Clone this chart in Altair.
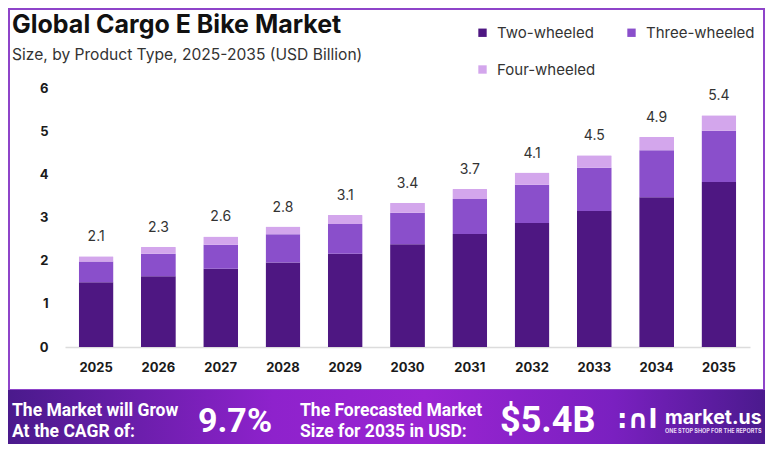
import altair as alt
import pandas as pd

years = ["2025", "2026", "2027", "2028", "2029", "2030", "2031", "2032", "2033", "2034", "2035"]
two_wheeled = [1.50, 1.64, 1.81, 1.96, 2.16, 2.38, 2.62, 2.87, 3.15, 3.47, 3.82]
three_wheeled = [0.48, 0.52, 0.56, 0.65, 0.69, 0.73, 0.81, 0.89, 1.00, 1.09, 1.19]
four_wheeled = [0.12, 0.16, 0.19, 0.18, 0.21, 0.23, 0.23, 0.28, 0.29, 0.31, 0.36]
total_labels = ["2.1", "2.3", "2.6", "2.8", "3.1", "3.4", "3.7", "4.1", "4.5", "4.9", "5.4"]
segments = ["Two-wheeled", "Three-wheeled", "Four-wheeled"]
seg_colors = ["#4e1782", "#8a4fcb", "#d3a6ec"]
y_ticks = [0, 1, 2, 3, 4, 5, 6]

FONT = "Inter"
BFONT = "Roboto"

rows = []
for i, y in enumerate(years):
    for k, (name, vals) in enumerate(zip(segments, [two_wheeled, three_wheeled, four_wheeled])):
        rows.append({"year": y, "segment": name, "value": vals[i], "k": k})
df = pd.DataFrame(rows)

tot = pd.DataFrame({
    "year": years,
    "total": [a + b + c for a, b, c in zip(two_wheeled, three_wheeled, four_wheeled)],
    "label": total_labels,
})

W, H = 685, 259
x_scale = alt.Scale(paddingInner=0.44, paddingOuter=0.22)
y_scale = alt.Scale(domain=[0, 6])

bars = alt.Chart(df).mark_bar(cornerRadiusTopLeft=1, cornerRadiusTopRight=1).encode(
    x=alt.X("year:N", sort=years, scale=x_scale,
            axis=alt.Axis(title=None, labelAngle=0, labelFont=FONT, labelFontWeight="bold",
                          labelFontSize=13, labelColor="#1a1a1a", ticks=False, tickSize=0,
                          labelPadding=14, domainColor="#dcdcdc", domainWidth=1.5)),
    y=alt.Y("value:Q", stack="zero", scale=y_scale,
            axis=alt.Axis(title=None, values=y_ticks, format="d", grid=False, domain=False,
                          ticks=False, tickSize=0, labelPadding=17, labelFont=FONT,
                          labelFontWeight="bold", labelFontSize=13, labelColor="#1a1a1a")),
    color=alt.Color("segment:N", scale=alt.Scale(domain=segments, range=seg_colors),
                    legend=alt.Legend(title=None, orient="none", legendX=410, legendY=-63,
                                      direction="horizontal", columns=2,
                                      symbolType="square", symbolSize=70,
                                      labelFont=FONT, labelFontSize=15, labelColor="#333333",
                                      labelOffset=7, columnPadding=28, rowPadding=21)),
    order=alt.Order("k:Q", sort="ascending"),
)

labels = alt.Chart(tot).mark_text(font=FONT, fontSize=14, color="#333333", dy=-19).encode(
    x=alt.X("year:N", sort=years, scale=x_scale),
    y=alt.Y("total:Q", scale=y_scale),
    text="label:N",
)

one = alt.Data(values=[{"a": 1}])

def txt(s, x, y, size, weight="normal", color="#111111", font=FONT, align="left"):
    return alt.Chart(one).mark_text(text=s, font=font, fontSize=size, fontWeight=weight,
                                    color=color, align=align, baseline="alphabetic").encode(
        x=alt.value(x), y=alt.value(y))

frame = alt.Chart(one).mark_rect(fill=None, stroke="#8e44c9", strokeWidth=2).encode(
    x=alt.value(-56), x2=alt.value(699), y=alt.value(-79), y2=alt.value(302))

banner = alt.Chart(one).mark_rect(
    color=alt.LinearGradient(
        gradient="linear", x1=0, x2=1, y1=0, y2=0,
        stops=[alt.GradientStop(color="#4a1a8c", offset=0),
               alt.GradientStop(color="#8e22cc", offset=0.35),
               alt.GradientStop(color="#9a24d2", offset=0.55),
               alt.GradientStop(color="#7a20c0", offset=0.8),
               alt.GradientStop(color="#4b1a8e", offset=1)])
).encode(x=alt.value(-57), x2=alt.value(700), y=alt.value(302), y2=alt.value(360))

layers = [
    frame,
    bars,
    labels,
    txt("Global Cargo E Bike Market", -53, -55, 25, "bold"),
    txt("Size, by Product Type, 2025-2035 (USD Billion)", -53, -28, 15.6, "normal", "#333333"),
    banner,
    txt("The Market will Grow", -53, 328, 17.5, "bold", "white", BFONT),
    txt("At the CAGR of:", -53, 349, 17.5, "bold", "white", BFONT),
    txt("9.7%", 133, 344, 34, "bold", "white", BFONT),
    txt("The Forecasted Market", 235, 328, 17.5, "bold", "white", BFONT),
    txt("Size for 2035 in USD:", 235, 349, 17.5, "bold", "white", BFONT),
    txt("$5.4B", 435, 344, 36, "bold", "white", BFONT),
    txt(":\u2229l", 552, 340, 26, "bold", "white", "DejaVu Sans"),
    txt("market.us", 600, 336, 19.5, "bold", "white"),
    txt("ONE STOP SHOP FOR THE REPORTS", 600, 345, 5.5, "bold", "#e8d8f5"),
]

chart = alt.layer(*layers).properties(
    width=W, height=H,
    autosize=alt.AutoSizeParams(type="none"),
    padding={"left": 57, "top": 80, "right": 15, "bottom": 97},
    background="white",
).configure_view(stroke=None)

chart.save("out.html", embed_options={"renderer": "svg", "actions": False})
